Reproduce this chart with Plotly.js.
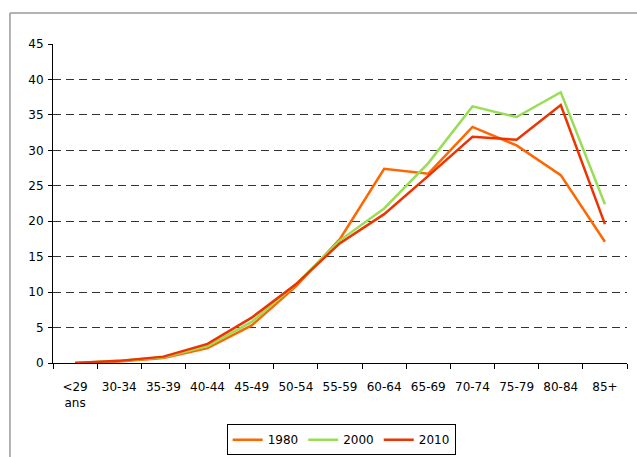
<!DOCTYPE html>
<html>
<head>
<meta charset="utf-8">
<script src="https://cdn.plot.ly/plotly-3.0.1.min.js"></script>
<style>html,body{margin:0;padding:0;background:#fff;}#chart{width:637px;height:457px;}</style>
</head>
<body>
<div id="chart"></div>
<script>
const categories = ["&lt;29<br>ans","30-34","35-39","40-44","45-49","50-54","55-59","60-64","65-69","70-74","75-79","80-84","85+"];
const s1980 = [0, 0.2, 0.7, 2.1, 5.3, 10.8, 17.5, 27.4, 26.7, 33.3, 30.7, 26.5, 17.1];
const s2000 = [0, 0.3, 0.8, 2.4, 5.8, 11.1, 17.3, 21.8, 28.2, 36.2, 34.7, 38.2, 22.4];
const s2010 = [0, 0.3, 0.9, 2.7, 6.4, 11.1, 16.9, 21.0, 26.4, 31.9, 31.5, 36.4, 19.6];
const seriesNames = ["1980","2000","2010"];
const colors = ["#FF6600","#99DD55","#EE3300"];

const data = [s1980, s2000, s2010].map((v,i)=>({
  type:"scatter", mode:"lines", x:categories, y:v, name:seriesNames[i],
  line:{color:colors[i], width:2.5}
}));

const layout = {
  width:637, height:457,
  margin:{l:53, r:10, t:44, b:94},
  paper_bgcolor:"#fff", plot_bgcolor:"#fff",
  font:{family:"DejaVu Sans", size:12, color:"#000"},
  showlegend:true,
  legend:{orientation:"h", x:0.502, xanchor:"center", yref:"container", y:0.004, yanchor:"bottom",
    bordercolor:"#000", borderwidth:1, font:{size:12}, itemwidth:30, tracegroupgap:0},
  xaxis:{type:"category", range:[-0.5, 12.5], showline:true, linecolor:"#000", linewidth:1,
    ticks:"outside", tickson:"boundaries", ticklen:5, tickcolor:"#000", ticklabelstandoff:13,
    showgrid:false, zeroline:false, tickangle:0, fixedrange:true, automargin:false},
  yaxis:{range:[0,45], dtick:5, showline:true, linecolor:"#000", linewidth:1,
    ticks:"outside", ticklen:4, tickcolor:"#000", automargin:false, ticklabelstandoff:2,
    showgrid:true, gridcolor:"#333", gridwidth:1, griddash:"8px,5px",
    zeroline:false, fixedrange:true},
  shapes:[
    {type:"line", xref:"paper", yref:"paper", x0:-0.075, x1:-0.075, y0:-0.31, y1:1.097, line:{color:"#999", width:1.5}},
    {type:"line", xref:"paper", yref:"paper", x0:-0.075, x1:1.1, y0:1.097, y1:1.097, line:{color:"#999", width:1.5}}
  ]
};

Plotly.newPlot("chart", data, layout, {displayModeBar:false, staticPlot:true});
</script>
</body>
</html>
